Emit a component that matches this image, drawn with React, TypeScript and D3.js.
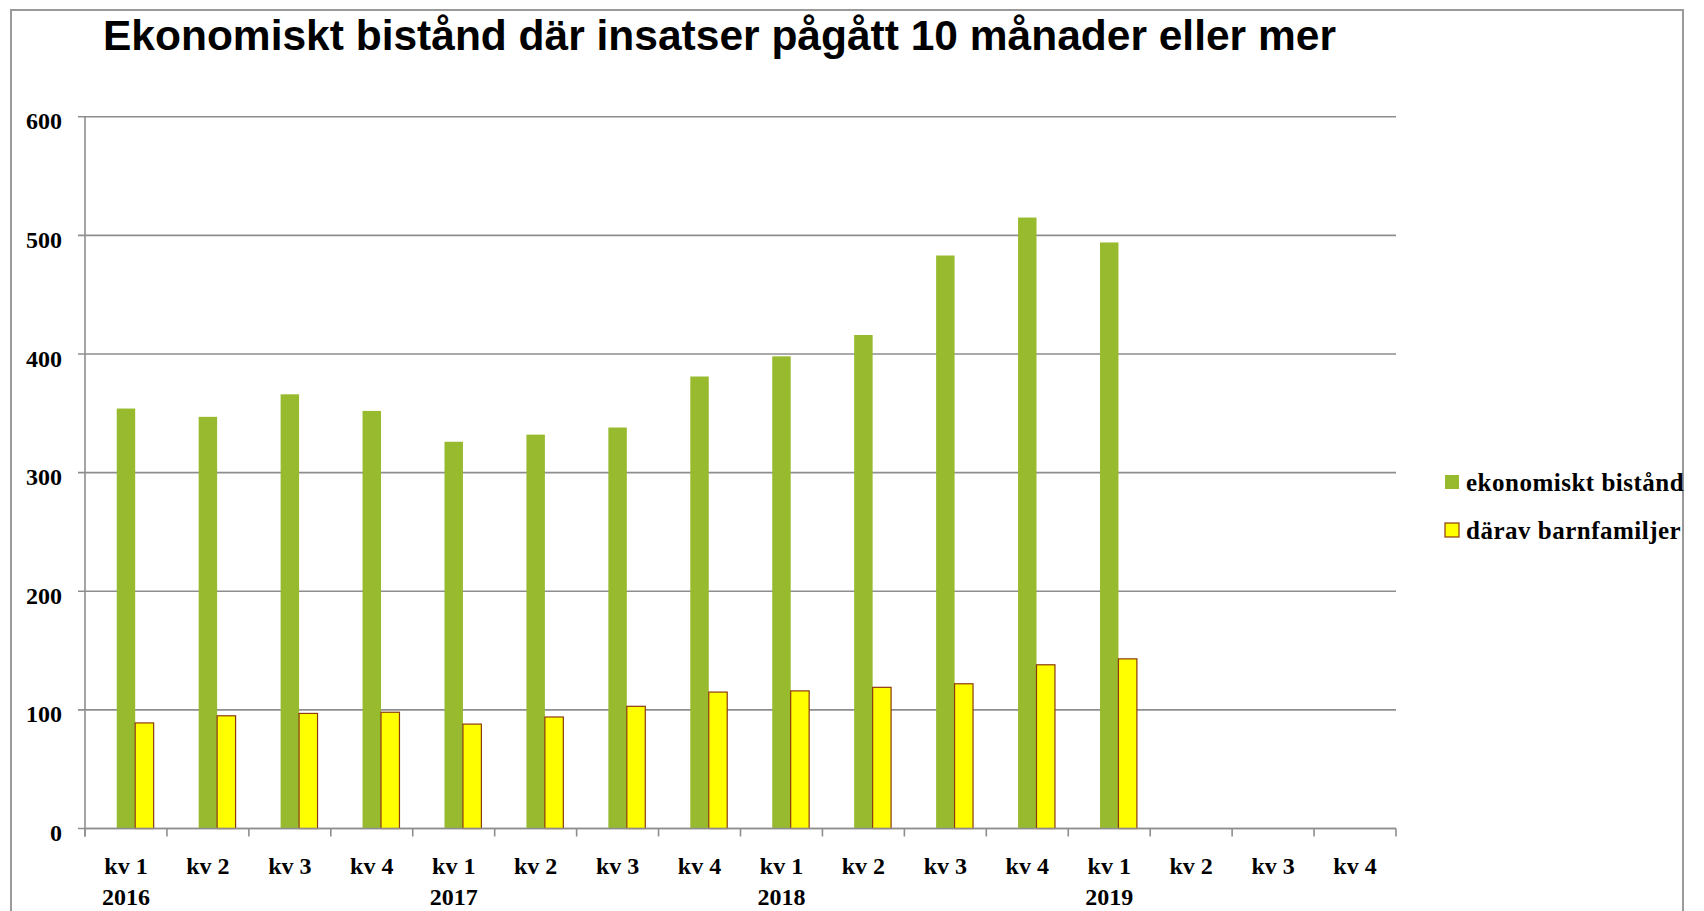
import React from "react";
import * as d3 from "d3";

const title = "Ekonomiskt bistånd där insatser pågått 10 månader eller mer";
const quarterLabels = ["kv 1", "kv 2", "kv 3", "kv 4", "kv 1", "kv 2", "kv 3", "kv 4", "kv 1", "kv 2", "kv 3", "kv 4", "kv 1", "kv 2", "kv 3", "kv 4"];
const yearLabels = ["2016", "", "", "", "2017", "", "", "", "2018", "", "", "", "2019", "", "", ""];
const seriesNames = ["ekonomiskt bistånd", "därav barnfamiljer"];
const ekonomisktBistand = [354, 347, 366, 352, 326, 332, 338, 381, 398, 416, 483, 515, 494];
const daravBarnfamiljer = [89, 95, 97, 98, 88, 94, 103, 115, 116, 119, 122, 138, 143];
const yTicks = [0, 100, 200, 300, 400, 500, 600];

const W = 1704;
const H = 911;
const plot = { left: 85, right: 1396, top: 116.7, bottom: 828.5 };
const GREEN = "#98ba2e";
const YELLOW = "#ffff00";
const YELLOW_STROKE = "#8b3a0f";
const GRID = "#8e8e8e";
const serif = "'Liberation Serif', 'Times New Roman', serif";
const sans = "'Liberation Sans', Arial, sans-serif";

export default function App() {
  const idx = quarterLabels.map((_, i) => String(i));
  const x = d3.scaleBand<string>().domain(idx).range([plot.left, plot.right]).padding(0);
  // three slots per category: the first one is an empty slot in the original chart
  const slots = ["", seriesNames[0], seriesNames[1]];
  const xs = d3.scaleBand<string>().domain(slots).range([0, x.bandwidth()]).paddingInner(0).paddingOuter(0.72);
  const y = d3.scaleLinear().domain([0, 600]).range([plot.bottom, plot.top]);
  const series = [
    { name: seriesNames[0], values: ekonomisktBistand, fill: GREEN, stroke: "none" },
    { name: seriesNames[1], values: daravBarnfamiljer, fill: YELLOW, stroke: YELLOW_STROKE },
  ];
  const boundaries = d3.range(quarterLabels.length + 1).map((i) => plot.left + i * x.step());

  return (
    <svg width={W} height={H} style={{ position: "absolute", left: 0, top: 0, background: "#fff" }}>
      <rect x={0} y={0} width={W} height={H} fill="#fff" />
      <rect x={11} y={10} width={1672} height={920} fill="none" stroke="#9a9a9a" strokeWidth={2} />
      <text x={103} y={50} fontFamily={sans} fontWeight="bold" fontSize={42.5} fill="#000">
        {title}
      </text>

      {/* gridlines + y ticks */}
      {yTicks.map((t) => (
        <g key={t}>
          <line x1={78} x2={plot.right} y1={y(t)} y2={y(t)} stroke={GRID} strokeWidth={1.6} />
          <text x={62} y={y(t) + 12.6} textAnchor="end" fontFamily={serif} fontWeight="bold" fontSize={24} fill="#000">
            {t}
          </text>
        </g>
      ))}

      {/* y axis */}
      <line x1={plot.left} x2={plot.left} y1={plot.top} y2={plot.bottom + 8} stroke={GRID} strokeWidth={1.6} />
      {/* x axis ticks */}
      {boundaries.map((bx, i) => (
        <line key={i} x1={bx} x2={bx} y1={plot.bottom} y2={plot.bottom + 8} stroke={GRID} strokeWidth={1.6} />
      ))}

      {/* bars */}
      {series.map((s) => (
        <g key={s.name}>
          {s.values.map((v, i) => {
            const bx = (x(String(i)) as number) + (xs(s.name) as number);
            const bw = xs.bandwidth();
            return (
              <rect
                key={i}
                x={bx}
                y={y(v)}
                width={bw}
                height={y(0) - y(v)}
                fill={s.fill}
                stroke={s.stroke}
                strokeWidth={s.stroke === "none" ? 0 : 1.2}
              />
            );
          })}
        </g>
      ))}
      <line x1={plot.left} x2={plot.right} y1={plot.bottom} y2={plot.bottom} stroke={GRID} strokeWidth={1.6} />

      {/* x labels */}
      {quarterLabels.map((q, i) => {
        const cx = (x(String(i)) as number) + x.bandwidth() / 2;
        return (
          <g key={i}>
            <text x={cx} y={874.3} textAnchor="middle" fontFamily={serif} fontWeight="bold" fontSize={24} fill="#000">
              {q}
            </text>
            {yearLabels[i] && (
              <text x={cx} y={905} textAnchor="middle" fontFamily={serif} fontWeight="bold" fontSize={24} fill="#000">
                {yearLabels[i]}
              </text>
            )}
          </g>
        );
      })}

      {/* legend */}
      {series.map((s, i) => (
        <g key={s.name} transform={`translate(1445, ${475 + i * 48})`}>
          <rect
            x={0}
            y={0}
            width={14}
            height={14}
            fill={s.fill}
            stroke={s.stroke}
            strokeWidth={s.stroke === "none" ? 0 : 1.2}
          />
          <text x={21} y={16} fontFamily={serif} fontWeight="bold" fontSize={25} letterSpacing={0.5} fill="#000">
            {s.name}
          </text>
        </g>
      ))}
    </svg>
  );
}
